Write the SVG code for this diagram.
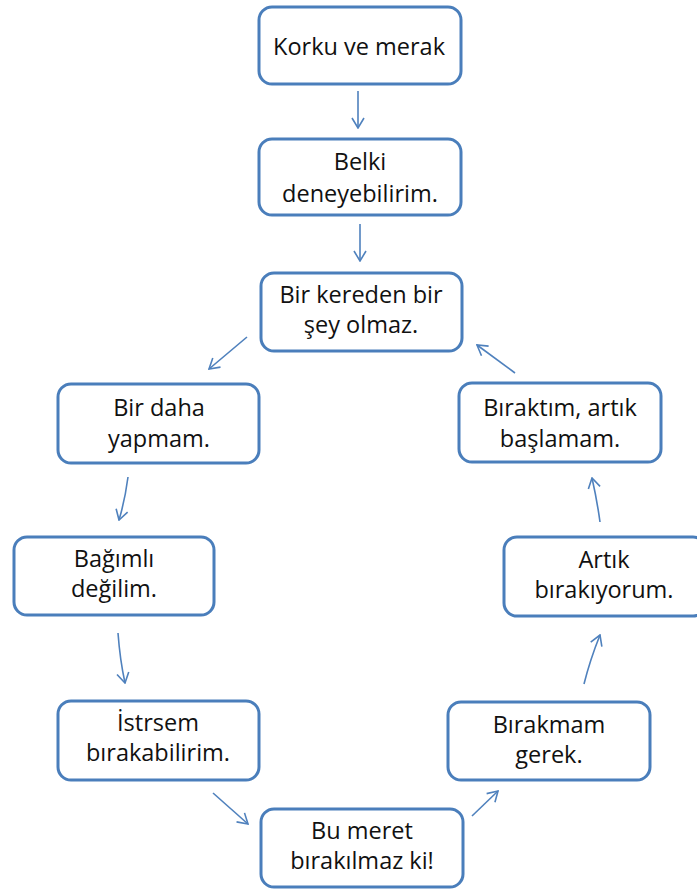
<svg xmlns="http://www.w3.org/2000/svg" width="697" height="891" viewBox="0 0 697 891">
<style>
.box{fill:#ffffff;stroke:#4a7ebb;stroke-width:3}
.t{font-family:"Open Sans","Liberation Sans",sans-serif;font-size:23.5px;fill:#111111;text-anchor:middle}
.c{fill:none;stroke:#4f81bd;stroke-width:1.6;marker-end:url(#ah)}
</style>
<defs>
<marker id="ah" viewBox="0 0 12 14" refX="11" refY="7" markerWidth="12" markerHeight="14" markerUnits="userSpaceOnUse" orient="auto">
<path d="M1,1 L11,7 L1,13" fill="none" stroke="#4f81bd" stroke-width="1.6"/>
</marker>
</defs>
<rect width="697" height="891" fill="#ffffff"/>
<g id="n1"><rect class="box" x="259" y="7" width="202" height="77" rx="13"/><text class="t" x="359" y="55">Korku ve merak</text></g>
<g id="n2"><rect class="box" x="259" y="139" width="202" height="76" rx="13"/><text class="t" x="360" y="170">Belki</text><text class="t" x="360" y="202">deneyebilirim.</text></g>
<g id="n3"><rect class="box" x="261" y="273" width="201" height="78" rx="13"/><text class="t" x="361" y="303">Bir kereden bir</text><text class="t" x="361" y="333">şey olmaz.</text></g>
<g id="n4"><rect class="box" x="58" y="384" width="201" height="79" rx="13"/><text class="t" x="159" y="416">Bir daha</text><text class="t" x="159" y="447">yapmam.</text></g>
<g id="n5"><rect class="box" x="459" y="383" width="202" height="79" rx="13"/><text class="t" x="560" y="416">Bıraktım, artık</text><text class="t" x="560" y="447">başlamam.</text></g>
<g id="n6"><rect class="box" x="14" y="537" width="200" height="78" rx="13"/><text class="t" x="114" y="567">Bağımlı</text><text class="t" x="114" y="597">değilim.</text></g>
<g id="n7"><rect class="box" x="504" y="537" width="202" height="79" rx="13"/><text class="t" x="604" y="568">Artık</text><text class="t" x="604" y="598">bırakıyorum.</text></g>
<g id="n8"><rect class="box" x="58" y="701" width="201" height="79" rx="13"/><text class="t" x="158" y="731">İstrsem</text><text class="t" x="158" y="761">bırakabilirim.</text></g>
<g id="n9"><rect class="box" x="448" y="702" width="202" height="78" rx="13"/><text class="t" x="549" y="733">Bırakmam</text><text class="t" x="549" y="763">gerek.</text></g>
<g id="n10"><rect class="box" x="261" y="809" width="202" height="78" rx="13"/><text class="t" x="362" y="839">Bu meret</text><text class="t" x="362" y="869">bırakılmaz ki!</text></g>
<g id="connectors">
<path class="c" d="M358,91 L358,128"/>
<path class="c" d="M360,224 L360,261"/>
<path class="c" d="M247,337 L209,369"/>
<path class="c" d="M128,477 Q125,500 119,520"/>
<path class="c" d="M118,633 Q120,660 125,683"/>
<path class="c" d="M213,793 L248,824"/>
<path class="c" d="M472,816 L498,791"/>
<path class="c" d="M584,684 Q590,660 600,635"/>
<path class="c" d="M600,522 Q597,500 592,478"/>
<path class="c" d="M515,373 L477,345"/>
</g>
</svg>
